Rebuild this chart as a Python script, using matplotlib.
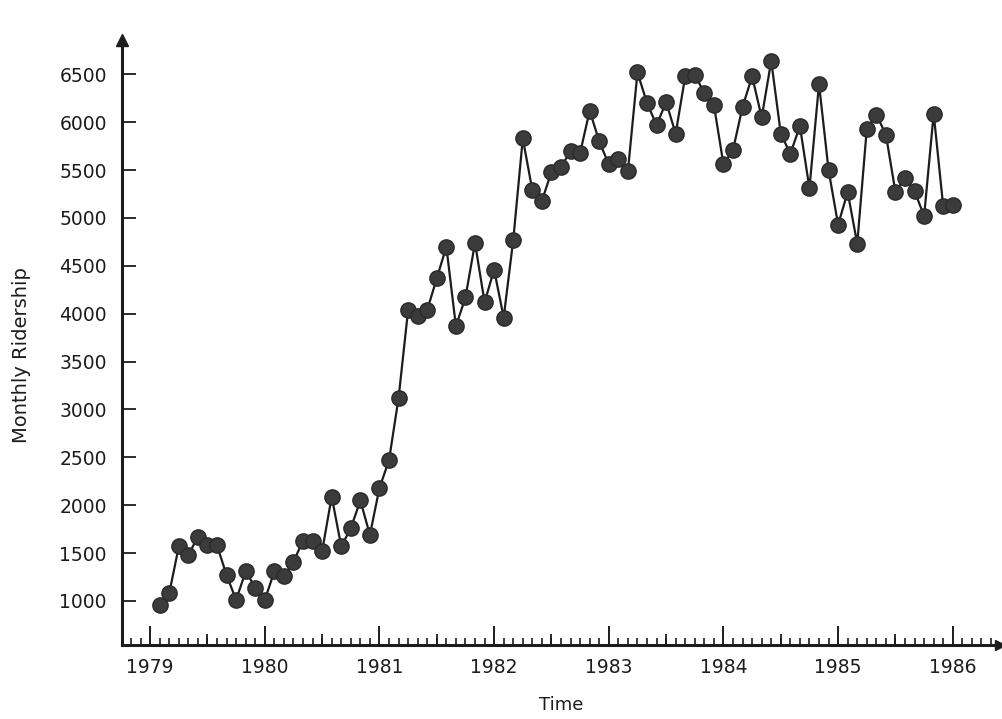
import numpy as np
import matplotlib
matplotlib.use("Agg")
import matplotlib.pyplot as plt
import matplotlib.transforms as mtransforms

# Monthly ridership, Feb 1979 .. Jan 1986 (x = 1979 + m/12, m = 1..84)
ridership = [
    960, 1080, 1570, 1480, 1670, 1580, 1580, 1270, 1010, 1310, 1140, 1010,
    1310, 1260, 1410, 1630, 1630, 1520, 2090, 1570, 1760, 2050, 1690, 2180,
    2470, 3120, 4040, 3980, 4040, 4370, 4700, 3870, 4170, 4740, 4120, 4460,
    3960, 4770, 5830, 5290, 5180, 5480, 5530, 5700, 5680, 6120, 5800, 5560,
    5620, 5490, 6520, 6200, 5970, 6210, 5880, 6480, 6490, 6310, 6180, 5560,
    5710, 6160, 6480, 6050, 6640, 5880, 5670, 5960, 5310, 6400, 5500, 4930,
    5270, 4730, 5930, 6080, 5870, 5270, 5420, 5280, 5020, 6090, 5120, 5140,
]
months = np.arange(1, len(ridership) + 1)
time = 1979 + months / 12.0

year_ticks = list(range(1979, 1987))
year_labels = ["1979", "1980", "1981", "1982", "1983", "1984", "1985", "1986"]
y_ticks = list(range(1000, 7000, 500))
y_labels = [str(v) for v in y_ticks]

fig = plt.figure(figsize=(10.02, 7.19), dpi=100)
ax = fig.add_axes([0.1218, 0.1029, 0.876, 0.841])

ink = "#1c1c1c"
ax.plot(time, ridership, color=ink, lw=1.6, zorder=2)
ax.plot(time, ridership, ls="none", marker="o", ms=11,
        mfc="#3b3b3b", mec="#2a2a2a", mew=1.0, zorder=3)

xmin, xmax = 1978.755, 1986.41
ax.set_xlim(xmin, xmax)
ax.set_ylim(540, 6855)

for s in ["top", "right"]:
    ax.spines[s].set_visible(False)
for s in ["left", "bottom"]:
    ax.spines[s].set_linewidth(2.2)
    ax.spines[s].set_color(ink)

# arrow heads
ax.plot([0], [1], marker="^", ms=9, color=ink, transform=ax.transAxes,
        clip_on=False, zorder=5)
ax.plot([1], [0], marker=">", ms=7, color=ink, transform=ax.transAxes,
        clip_on=False, zorder=5)

ax.set_yticks(y_ticks)
ax.set_yticklabels(y_labels)
ax.tick_params(axis="y", direction="in", length=10, width=1.3, colors=ink,
               labelsize=13.5, pad=11)

ax.set_xticks(year_ticks)
ax.set_xticklabels(year_labels)
minor = [1978 + k / 12.0 for k in range(10, 12 * 9) if 1978.78 < 1978 + k / 12.0 < 1986.35]
ax.set_xticks(minor, minor=True)
ax.tick_params(axis="x", which="major", direction="in", length=14, width=1.4,
               colors=ink, labelsize=13.5, pad=9)
ax.tick_params(axis="x", which="minor", direction="in", length=5, width=1.2,
               colors=ink)
# half-year ticks (medium)
trans = mtransforms.blended_transform_factory(ax.transData, ax.transAxes)
half_years = [y + 0.5 for y in range(1979, 1986)]
ax.vlines(half_years, 0, 0.019, transform=trans, colors=ink, lw=1.3,
          clip_on=False)

ax.set_xlabel("Time", fontsize=13, labelpad=14, color=ink)
ax.set_ylabel("Monthly Ridership", fontsize=14, color=ink)
ax.yaxis.set_label_coords(-0.104, 0.48)

fig.savefig("out.png", dpi=100, facecolor="white")
